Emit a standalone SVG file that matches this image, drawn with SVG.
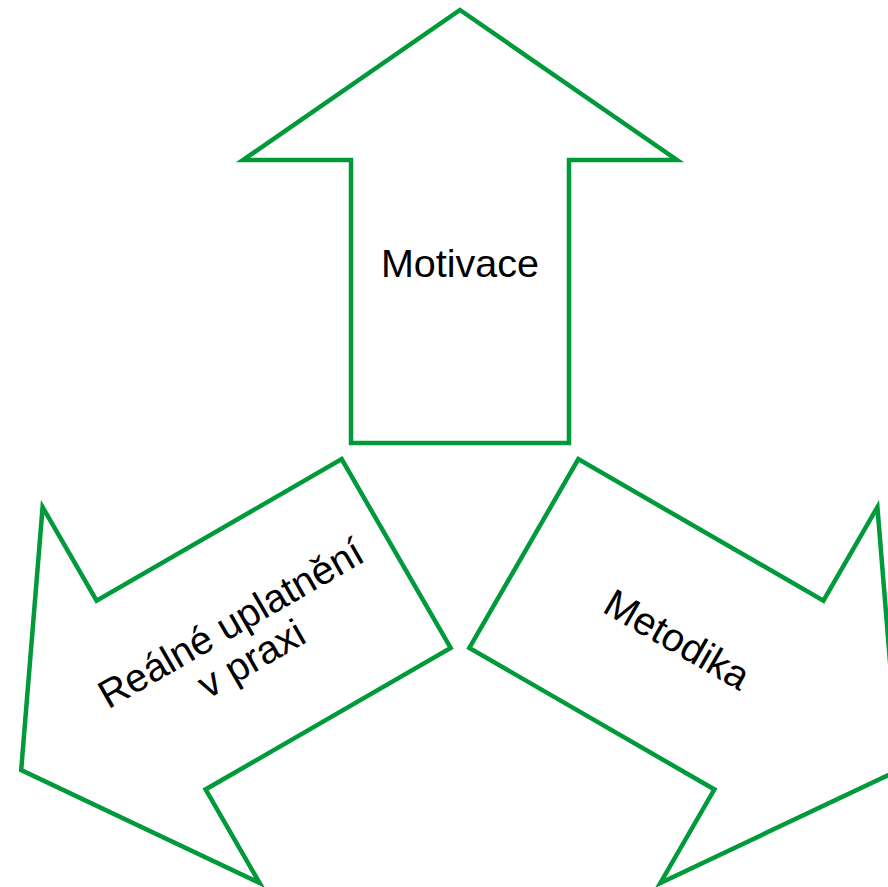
<svg xmlns="http://www.w3.org/2000/svg" width="888" height="887" viewBox="0 0 888 887">
<defs>
<style>
.arrow{fill:#ffffff;stroke:#009a3a;stroke-width:4.5;stroke-linejoin:miter;stroke-miterlimit:10}
.lbl{font-family:"Liberation Sans",Arial,sans-serif;font-size:39.5px;fill:#000000;text-anchor:middle}
</style>
<polygon id="arrowShape" points="460,10 677,160 569,160 569,443 351,443 351,160 243,160"/>
</defs>
<rect width="888" height="887" fill="#ffffff"/>
<g id="motivace">
<use href="#arrowShape" class="arrow"/>
<text class="lbl" x="460" y="277">Motivace</text>
</g>
<g id="realne-uplatneni">
<use href="#arrowShape" class="arrow" transform="rotate(-120 460 516.7)"/>
<g transform="translate(241,641) rotate(-30)">
<text class="lbl" x="0" y="-7">Reálné uplatnění</text>
<text class="lbl" x="0" y="34">v praxi</text>
</g>
</g>
<g id="metodika">
<use href="#arrowShape" class="arrow" transform="rotate(120 460 516.7)"/>
<text class="lbl" transform="translate(677,640) rotate(30)" x="0" y="13">Metodika</text>
</g>
<g id="connectors"/>
</svg>
